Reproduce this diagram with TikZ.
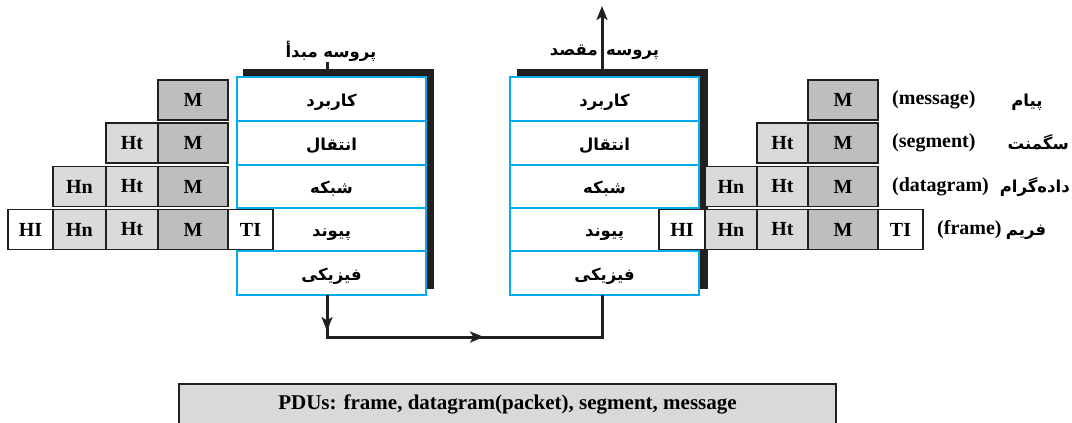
\documentclass[tikz,border=0pt]{standalone}
\usepackage{fontspec}
\setmainfont{Liberation Serif}
\newfontfamily\fa[Script=Arabic]{DejaVu Sans}
\TeXXeTstate=1
\usetikzlibrary{arrows.meta}
\definecolor{ink}{HTML}{231F20}
\definecolor{layerblue}{HTML}{00AEEF}
\definecolor{mgray}{HTML}{BEBEBE}
\definecolor{lgray}{HTML}{DADADA}
\definecolor{pdugray}{HTML}{D9D9D9}
\newcommand{\fat}[1]{{\fa\bfseries\beginR #1\endR}}
\tikzset{
  >={Stealth[length=14pt,width=11pt,inset=3.5pt]},
  layer/.style={draw=layerblue, line width=2pt, fill=white, minimum width=189pt,
    inner sep=0pt, outer sep=0pt},
  fatext/.style={inner sep=0pt, font=\fontsize{16.5}{16.5}\selectfont},
  blk/.style={draw=ink, line width=1.5pt, minimum height=40pt, inner sep=0pt,
    outer sep=0pt, font=\bfseries\fontsize{20}{20}\selectfont},
  mblk/.style={blk, fill=mgray, minimum width=70pt},
  hblk/.style={blk, fill=lgray},
  eblk/.style={blk, fill=white, minimum width=45pt},
  conn/.style={draw=ink, line width=3pt},
  shadowbar/.style={fill=ink},
  lbl/.style={font=\bfseries\fontsize{20}{20}\selectfont, inner sep=0pt},
}
\begin{document}
\begin{tikzpicture}[x=1pt,y=-1pt]
\useasboundingbox (0,0) rectangle (1072,423);

% ---------- source stack ----------
\fill[shadowbar] (243,69) rectangle (434,289);
\node[layer, minimum height=44pt] (lapp) at (331.5,99)    {};
\node[layer, minimum height=44pt] (ltra) at (331.5,143)   {};
\node[layer, minimum height=43pt] (lnet) at (331.5,186.5) {};
\node[layer, minimum height=43pt] (llnk) at (331.5,229.5) {};
\node[layer, minimum height=44pt] (lphy) at (331.5,273)   {};
\node[fatext, anchor=base] at ([yshift=-7pt]lapp.center) {\fat{کاربرد}};
\node[fatext, anchor=base] at ([yshift=-7pt]ltra.center) {\fat{انتقال}};
\node[fatext, anchor=base] at ([yshift=-7pt]lnet.center) {\fat{شبکه}};
\node[fatext, anchor=base] at ([yshift=-7pt]llnk.center) {\fat{پیوند}};
\node[fatext, anchor=base] at ([yshift=-7pt]lphy.center) {\fat{فیزیکی}};
\node[fatext, anchor=base] (lsrc) at (331,57) {\fat{پروسه مبدأ}};
\coordinate (ltick) at (327,62);
\draw[conn] (ltick) -- (ltick |- 0,70);

% ---------- destination stack ----------
\fill[shadowbar] (517,69) rectangle (708,289);
\node[layer, minimum height=44pt] (rapp) at (604.5,99)    {};
\node[layer, minimum height=44pt] (rtra) at (604.5,143)   {};
\node[layer, minimum height=43pt] (rnet) at (604.5,186.5) {};
\node[layer, minimum height=43pt] (rlnk) at (604.5,229.5) {};
\node[layer, minimum height=44pt] (rphy) at (604.5,273)   {};
\node[fatext, anchor=base] at ([yshift=-7pt]rapp.center) {\fat{کاربرد}};
\node[fatext, anchor=base] at ([yshift=-7pt]rtra.center) {\fat{انتقال}};
\node[fatext, anchor=base] at ([yshift=-7pt]rnet.center) {\fat{شبکه}};
\node[fatext, anchor=base] at ([yshift=-7pt]rlnk.center) {\fat{پیوند}};
\node[fatext, anchor=base] at ([yshift=-7pt]rphy.center) {\fat{فیزیکی}};
\node[fatext, anchor=base east] (rdst1) at (598,56) {\fat{مقصد}};
\node[fatext, anchor=base west] (rdst2) at (606,56) {\fat{پروسه}};
\coordinate (rbase) at (602,70);
\coordinate (rtop) at (602,6);
\draw[conn, ->] (rbase) -- (rtop);

% ---------- physical link between the stacks ----------
\coordinate (c1) at (327,337);
\coordinate (c2) at (602,337);
\coordinate (dn) at (327,331);
\coordinate (mid) at (484,337);
\draw[conn, line join=miter]
  (lphy.south -| c1) -- (c1) -- (c2) -- (rphy.south -| c2);
\draw[conn, ->] (lphy.south -| c1) -- (dn);
\draw[conn, ->] (c1) -- (mid);

% ---------- encapsulation on the source side ----------
\node[mblk] (lm1) at (193,100) {M};

\node[hblk, minimum width=52pt] (lht2) at (132,143) {Ht};
\node[mblk] (lm2) at (193,143) {M};

\node[hblk, minimum width=53pt] (lhn3) at (79.5,186.5) {Hn};
\node[hblk, minimum width=52pt] (lht3) at (132,186.5) {Ht};
\node[mblk] (lm3) at (193,186.5) {M};

\node[eblk] (lhl4) at (30.5,229.5) {HI};
\node[hblk, minimum width=53pt] (lhn4) at (79.5,229.5) {Hn};
\node[hblk, minimum width=52pt] (lht4) at (132,229.5) {Ht};
\node[mblk] (lm4) at (193,229.5) {M};
\node[eblk] (ltl4) at (250.5,229.5) {TI};

% ---------- encapsulation on the destination side ----------
\node[mblk] (rm1) at (843,100) {M};

\node[hblk, minimum width=51pt] (rht2) at (782.5,143) {Ht};
\node[mblk] (rm2) at (843,143) {M};

\node[hblk, minimum width=52pt] (rhn3) at (731,186.5) {Hn};
\node[hblk, minimum width=51pt] (rht3) at (782.5,186.5) {Ht};
\node[mblk] (rm3) at (843,186.5) {M};

\node[eblk, minimum width=46pt] (rhl4) at (682,229.5) {HI};
\node[hblk, minimum width=52pt] (rhn4) at (731,229.5) {Hn};
\node[hblk, minimum width=51pt] (rht4) at (782.5,229.5) {Ht};
\node[mblk] (rm4) at (843,229.5) {M};
\node[eblk] (rtl4) at (900.5,229.5) {TI};

% ---------- PDU names ----------
\node[lbl, anchor=west] (en1) at (892,100) {(message)};
\node[fatext, anchor=base] (fa1) at (1027,106) {\fat{پیام}};
\node[lbl, anchor=west] (en2) at (892,143) {(segment)};
\node[fatext, anchor=base east] (fa2) at (1069,149) {\fat{سگمنت}};
\node[lbl, anchor=west] (en3) at (892,186.5) {(datagram)};
\node[fatext, anchor=base east] (fa3) at (1070,192.5) {\fat{داده‌گرام}};
\node[lbl, anchor=west] (en4) at (937,229.5) {(frame)};
\node[fatext, anchor=base] (fa4) at (1026,235.5) {\fat{فریم}};

% ---------- summary bar ----------
\node[fill=pdugray, minimum width=657pt, minimum height=40pt, inner sep=0pt,
  font=\bfseries\fontsize{21}{21}\selectfont] (pdu) at (507.5,404)
  {PDUs: frame, datagram(packet), segment, message};
\draw[draw=ink, line width=2pt] (pdu.south west) -- (pdu.north west)
  -- (pdu.north east) -- (pdu.south east);
\end{tikzpicture}
\end{document}
